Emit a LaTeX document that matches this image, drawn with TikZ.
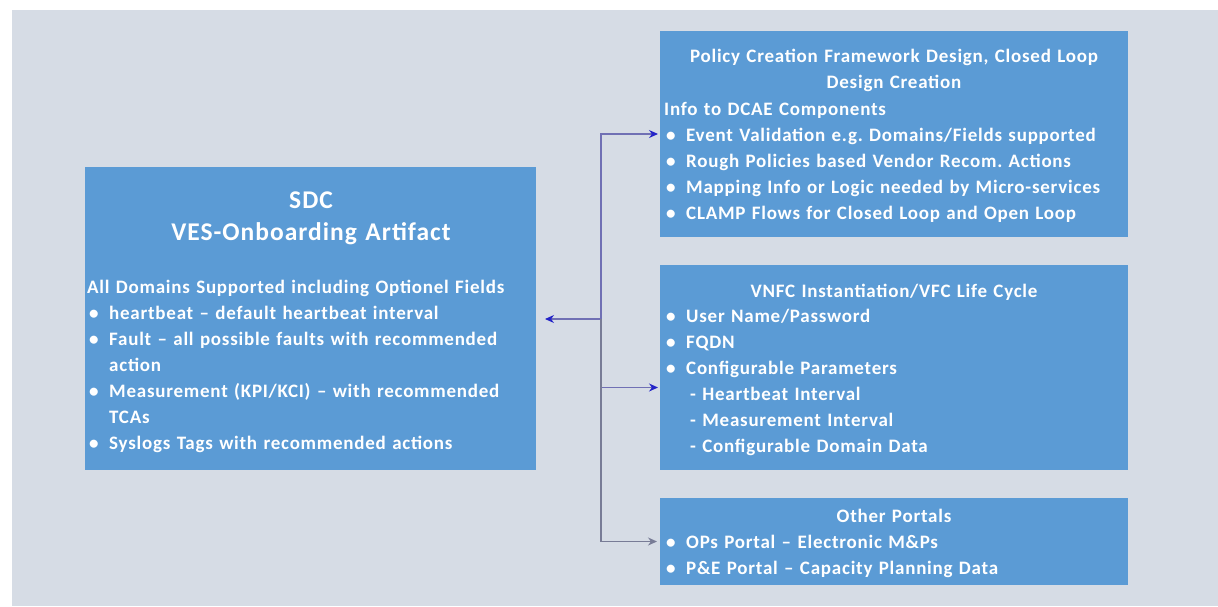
\documentclass[tikz,border=0pt]{standalone}
\usepackage{fontspec}
\setmainfont{Carlito}[LetterSpace=4]
\usetikzlibrary{arrows.meta}
\definecolor{bgc}{RGB}{214,220,229}
\definecolor{boxc}{RGB}{91,155,213}
\definecolor{linec}{RGB}{112,112,180}
\definecolor{tipc}{RGB}{36,36,200}
\definecolor{grayline}{RGB}{120,124,150}
\newcommand\bl{\hspace*{2pt}\makebox[20pt][l]{\textbullet}}
\newcommand\cont{\hspace*{22pt}}
\frenchspacing
\begin{document}
\begin{tikzpicture}[x=1pt,y=-1pt,
  panel/.style={fill=boxc, draw=none, anchor=north west, inner sep=0pt, outer sep=0pt},
  txt/.style={text=white, font=\frenchspacing\bfseries\fontsize{19}{26}\selectfont, inner sep=0pt, align=left, anchor=base west, text width=#1},
  ttl/.style={text=white, font=\frenchspacing\bfseries\fontsize{19}{26}\selectfont, inner sep=0pt, align=center, anchor=base, text width=#1},
  bigttl/.style={text=white, font=\bfseries\fontsize{25.5}{32}\selectfont, inner sep=0pt, align=center, anchor=base, text width=#1},
  conn/.style={draw=linec, line width=1.1pt, -{Stealth[length=9pt,width=8pt,color=tipc]}},
  connb/.style={draw=grayline, line width=1.1pt, -{Stealth[length=9pt,width=8pt,color=grayline]}}]
\useasboundingbox (0,0) rectangle (1218,606);
\fill[white] (0,0) rectangle (1218,606);
\fill[bgc] (12,10) rectangle (1218,606);

% panels
\node[panel, minimum width=451pt, minimum height=303pt] (sdc) at (85,167) {};
\node[panel, minimum width=468pt, minimum height=206pt] (pol) at (660,31) {};
\node[panel, minimum width=468pt, minimum height=205pt] (vnfc) at (660,265) {};
\node[panel, minimum width=468pt, minimum height=87pt] (oth) at (660,498) {};

% SDC text
\node[bigttl=445pt] (sdct) at (311,208) {SDC\\VES-Onboarding Artifact};
\node[txt=449pt] (sdcl) at (87,293) {All Domains Supported including Optionel Fields\\
\bl heartbeat – default heartbeat interval\\
\bl Fault – all possible faults with recommended\\
\cont action\\
\bl Measurement (KPI/KCI) – with recommended\\
\cont TCAs\\
\bl Syslogs Tags with recommended actions};

% Policy text
\node[ttl=464pt] (polt) at (894,62) {Policy Creation Framework Design, Closed Loop\\Design Creation};
\node[txt=462pt] (poll) at (664,115) {Info to DCAE Components\\
\bl Event Validation e.g. Domains/Fields supported\\
\bl Rough Policies based Vendor Recom. Actions\\
\bl Mapping Info or Logic needed by Micro-services\\
\bl CLAMP Flows for Closed Loop and Open Loop};

% VNFC text
\node[ttl=464pt] (vnfct) at (894,297) {VNFC Instantiation/VFC Life Cycle};
\node[txt=462pt] (vnfcl) at (664,322) {\bl User Name/Password\\
\bl FQDN\\
\bl Configurable Parameters\\
\hspace*{26pt}- Heartbeat Interval\\
\hspace*{26pt}- Measurement Interval\\
\hspace*{26pt}- Configurable Domain Data};

% Other portals text
\node[ttl=464pt] (otht) at (894,522) {Other Portals};
\node[txt=462pt] (othl) at (664,548) {\bl OPs Portal – Electronic M\&Ps\\
\bl P\&E Portal – Capacity Planning Data};

% connectors
\coordinate (j) at (601,319);
\coordinate (vin) at ([yshift=-20pt]vnfc.west);
\draw[conn, shorten >=9pt] (j) -- (sdc.east |- j);
\draw[conn, shorten >=2pt] (j) |- (pol.west);
\draw[conn, shorten >=2pt] (j) |- (vin);
\draw[connb, shorten >=3pt] (j) |- (oth.west);
\end{tikzpicture}
\end{document}
